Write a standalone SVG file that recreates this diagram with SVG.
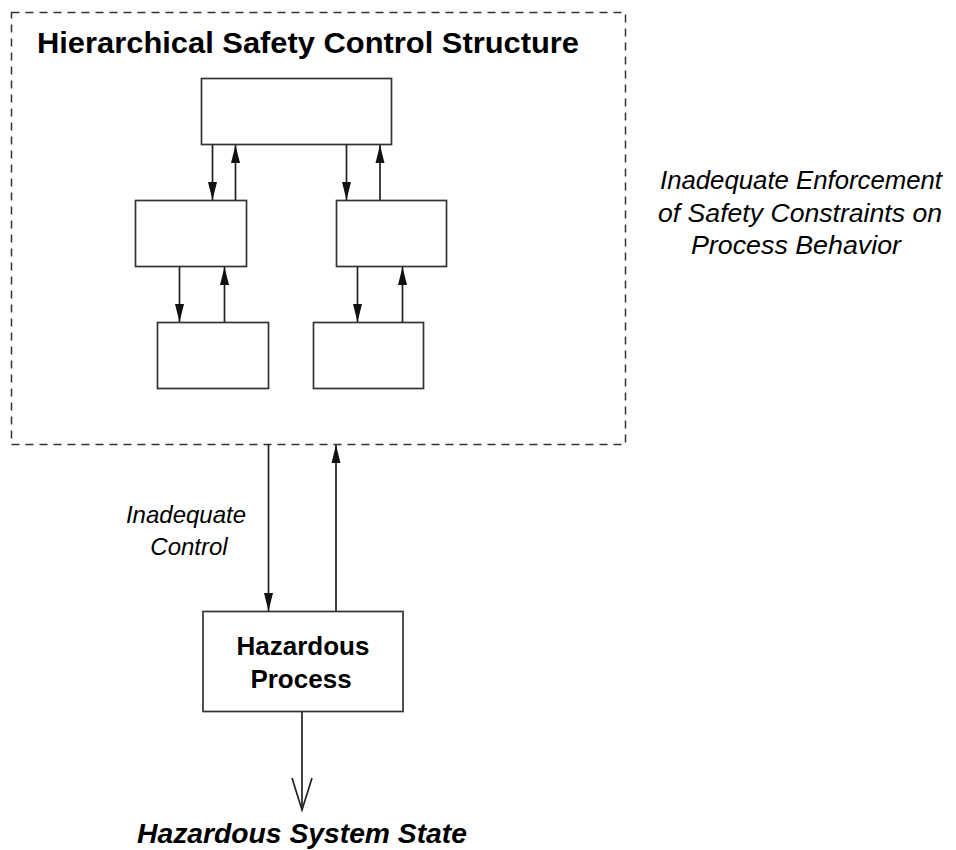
<svg xmlns="http://www.w3.org/2000/svg" width="956" height="850" viewBox="0 0 956 850">
<style>
.box{fill:#fff;stroke:#333;stroke-width:1.7}
.ln{stroke:#222;stroke-width:1.7;fill:none}
.t{font-family:"Liberation Sans",Arial,sans-serif;fill:#000}
.b{font-weight:bold}
.i{font-style:italic}
</style>
<defs>
<marker id="ah" viewBox="0 0 18 10" refX="18" refY="5" markerWidth="18" markerHeight="10" markerUnits="userSpaceOnUse" orient="auto">
<path d="M0,0.5 L18,5 L0,9.5 Z" fill="#111"/>
</marker>
</defs>
<rect x="0" y="0" width="956" height="850" fill="#fff"/>
<g id="structure">
<rect x="11.5" y="12.5" width="614" height="432" fill="none" stroke="#333" stroke-width="1.5" stroke-dasharray="8,6"/>
<text class="t b" x="37" y="53" font-size="29" textLength="542" lengthAdjust="spacingAndGlyphs">Hierarchical Safety Control Structure</text>
</g>
<g id="top"><rect class="box" x="201.5" y="78.5" width="190" height="66"/></g>
<g id="midL"><rect class="box" x="135.5" y="200.5" width="111" height="66"/></g>
<g id="midR"><rect class="box" x="336.5" y="200.5" width="110" height="66"/></g>
<g id="botL"><rect class="box" x="157.5" y="322.5" width="111" height="66"/></g>
<g id="botR"><rect class="box" x="313.5" y="322.5" width="110" height="66"/></g>
<g id="process">
<rect class="box" x="203" y="611.5" width="200" height="100"/>
<text class="t b" x="303" y="655" font-size="26" text-anchor="middle">Hazardous</text>
<text class="t b" x="301" y="688" font-size="26" text-anchor="middle">Process</text>
</g>
<g id="connectors">
<line class="ln" x1="212.5" y1="144.5" x2="212.5" y2="200" marker-end="url(#ah)"/>
<line class="ln" x1="235.5" y1="200.5" x2="235.5" y2="145" marker-end="url(#ah)"/>
<line class="ln" x1="346.5" y1="144.5" x2="346.5" y2="200" marker-end="url(#ah)"/>
<line class="ln" x1="380" y1="200.5" x2="380" y2="145" marker-end="url(#ah)"/>
<line class="ln" x1="179.5" y1="266.5" x2="179.5" y2="322" marker-end="url(#ah)"/>
<line class="ln" x1="224.5" y1="322.5" x2="224.5" y2="267" marker-end="url(#ah)"/>
<line class="ln" x1="357.5" y1="266.5" x2="357.5" y2="322" marker-end="url(#ah)"/>
<line class="ln" x1="402.5" y1="322.5" x2="402.5" y2="267" marker-end="url(#ah)"/>
<line class="ln" x1="268.5" y1="444.5" x2="268.5" y2="611" marker-end="url(#ah)"/>
<line class="ln" x1="336" y1="611.5" x2="336" y2="445" marker-end="url(#ah)"/>
<line class="ln" x1="302" y1="711.5" x2="302" y2="810" stroke-width="1.3"/>
<polyline class="ln" points="292,778 302,810 312,778" stroke-width="1"/>
</g>
<g id="labels">
<text class="t i" font-size="25"><tspan x="660" y="189" textLength="282" lengthAdjust="spacingAndGlyphs">Inadequate Enforcement</tspan><tspan x="658" y="222" textLength="284" lengthAdjust="spacingAndGlyphs">of Safety Constraints on</tspan><tspan x="691" y="254" textLength="210" lengthAdjust="spacingAndGlyphs">Process Behavior</tspan></text>
<text class="t i" font-size="24" text-anchor="middle"><tspan x="186" y="523">Inadequate</tspan><tspan x="189" y="555">Control</tspan></text>
<text class="t b i" x="137" y="843" font-size="28" textLength="330" lengthAdjust="spacingAndGlyphs">Hazardous System State</text>
</g>
</svg>
